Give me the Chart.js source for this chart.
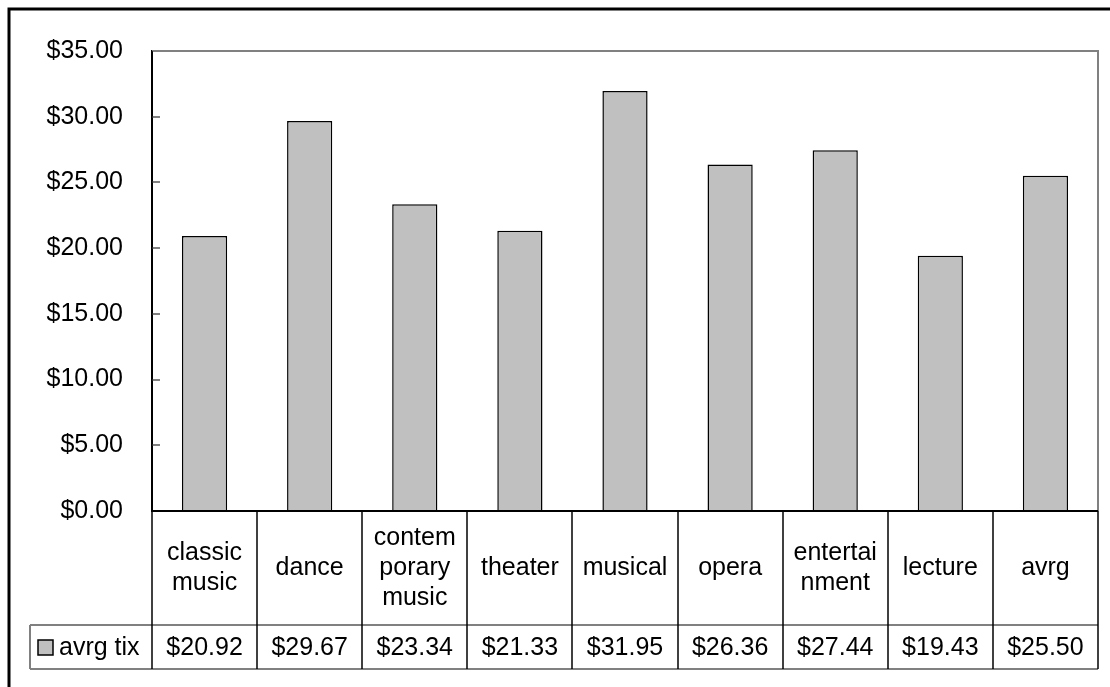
<!DOCTYPE html>
<html>
<head>
<meta charset="utf-8">
<script src="https://cdn.jsdelivr.net/npm/chart.js@4/dist/chart.umd.min.js"></script>
<style>
  html, body { margin: 0; padding: 0; background: #fff; }
  #wrap { width: 1110px; height: 687px; }
</style>
</head>
<body>
<div id="wrap"><canvas id="graph1" width="1110" height="687"></canvas></div>
<script>
// Data
const categories = [
    ['classic', 'music'], ['dance'], ['contem', 'porary', 'music'], ['theater'],
    ['musical'], ['opera'], ['entertai', 'nment'], ['lecture'], ['avrg']
];
const avrgTix = [20.92, 29.67, 23.34, 21.33, 31.95, 26.36, 27.44, 19.43, 25.50];
const seriesName = 'avrg tix';
const yTicks = [0, 5, 10, 15, 20, 25, 30, 35];

const FONT = '25px "Liberation Sans", Arial, sans-serif';
const money = v => '$' + v.toFixed(2);

// draws the frame, inner tick marks and the data table under the plot
const tablePlugin = {
    id: 'dataTable',
    afterDraw(chart) {
        const c = chart.ctx;
        const area = chart.chartArea;
        const x = chart.scales.x;
        const y = chart.scales.y;
        const n = categories.length;
        const colW = (area.right - area.left) / n;
        const rowTop = area.bottom;
        const rowMid = rowTop + 114;
        const rowBot = rowMid + 44;
        const legLeft = 30;

        c.save();
        // outer chart frame
        c.strokeStyle = '#000';
        c.lineWidth = 3;
        c.beginPath();
        c.moveTo(9, 700);
        c.lineTo(9, 9);
        c.lineTo(1120, 9);
        c.stroke();

        // plot border (grey) top and right
        c.strokeStyle = '#808080';
        c.lineWidth = 2;
        c.beginPath();
        c.moveTo(area.left, area.top);
        c.lineTo(area.right, area.top);
        c.lineTo(area.right, area.bottom);
        c.stroke();

        // inner tick marks on value axis
        c.lineWidth = 2;
        yTicks.forEach(v => {
            const py = Math.round(y.getPixelForValue(v));
            c.beginPath();
            c.moveTo(area.left, py);
            c.lineTo(area.left + 8, py);
            c.stroke();
        });

        // table horizontal lines (grey)
        c.strokeStyle = '#808080';
        c.lineWidth = 2;
        [rowMid, rowBot].forEach(py => {
            c.beginPath();
            c.moveTo(legLeft, py);
            c.lineTo(area.right, py);
            c.stroke();
        });
        c.beginPath();
        c.moveTo(legLeft, rowMid);
        c.lineTo(legLeft, rowBot);
        c.stroke();

        // category axis line
        c.strokeStyle = '#000';
        c.lineWidth = 2;
        c.beginPath();
        c.moveTo(area.left, rowTop);
        c.lineTo(area.right, rowTop);
        c.stroke();

        // table vertical lines
        c.lineWidth = 1.5;
        for (let i = 0; i <= n; i++) {
            const px = Math.round(area.left + i * colW);
            c.beginPath();
            c.moveTo(px, i === 0 ? area.top : rowTop);
            c.lineTo(px, rowBot);
            c.stroke();
        }

        // texts
        c.fillStyle = '#000';
        c.font = FONT;
        c.textAlign = 'center';
        c.textBaseline = 'middle';
        categories.forEach((lines, i) => {
            const cx = x.getPixelForValue(i);
            const lh = 30;
            const y0 = (rowTop + rowMid) / 2 - (lines.length - 1) * lh / 2;
            lines.forEach((t, k) => c.fillText(t, cx, y0 + k * lh));
            c.fillText(money(avrgTix[i]), cx, (rowMid + rowBot) / 2 + 1);
        });

        // legend key
        const ky = (rowMid + rowBot) / 2;
        c.fillStyle = '#C0C0C0';
        c.fillRect(38, ky - 7, 15, 15);
        c.strokeStyle = '#000';
        c.lineWidth = 1.5;
        c.strokeRect(38, ky - 7, 15, 15);
        c.fillStyle = '#000';
        c.textAlign = 'left';
        c.fillText(seriesName, 59, ky + 1);
        c.restore();
    }
};

const ctx1 = document.getElementById('graph1').getContext('2d');
new Chart(ctx1, {
    type: 'bar',
    data: {
        labels: categories,
        datasets: [{
            label: seriesName,
            data: avrgTix,
            backgroundColor: '#C0C0C0',
            borderColor: '#000',
            borderWidth: 1.5,
            barPercentage: 0.43,
            categoryPercentage: 1.0
        }]
    },
    options: {
        responsive: false,
        animation: false,
        layout: { padding: { left: 10, top: 51, right: 12, bottom: 176 } },
        plugins: {
            legend: { display: false },
            tooltip: { enabled: false }
        },
        scales: {
            x: { display: false },
            y: {
                min: 0,
                max: 35,
                afterFit: s => { s.width = 142; },
                afterBuildTicks: s => { s.ticks = yTicks.map(v => ({ value: v })); },
                border: { display: true, color: '#000', width: 2 },
                grid: { display: false, drawTicks: false },
                ticks: {
                    padding: 29,
                    color: '#000',
                    font: { family: '"Liberation Sans", Arial, sans-serif', size: 25 },
                    callback: v => money(v)
                }
            }
        }
    },
    plugins: [tablePlugin]
});
</script>
</body>
</html>
